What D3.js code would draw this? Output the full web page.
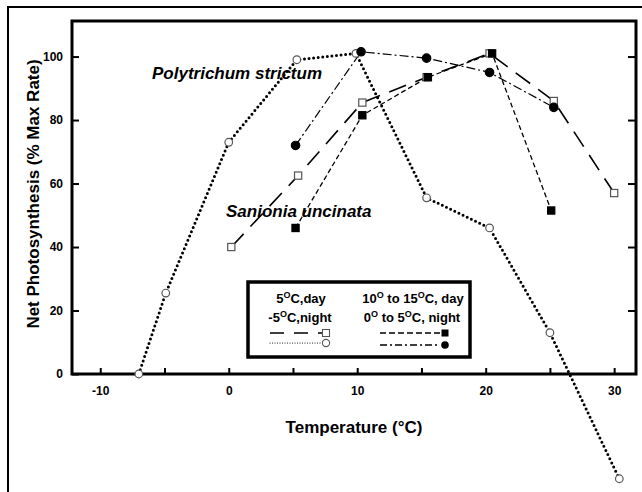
<!DOCTYPE html>
<html>
<head>
<meta charset="utf-8">
<script src="https://cdn.jsdelivr.net/npm/d3@7"></script>
<style>
  body { margin: 0; background: #fff; }
  svg { display: block; font-family: "Liberation Sans", Arial, sans-serif; }
</style>
</head>
<body>
<script>
// Values
var xTickValues = [-10, -5, 0, 5, 10, 15, 20, 25, 30];
var xTickLabels = [-10, 0, 10, 20, 30];
var yTickValues = [0, 20, 40, 60, 80, 100];

// Polytrichum strictum, 5C day / -5C night (dotted, open circle)
var polyColdT = [-7, -4.9, 0, 5.3, 9.9, 15.4, 20.3, 25, 30.4];
var polyColdV = [0, 25.5, 73, 99, 101, 55.5, 46, 13, -33];
// Sanionia uncinata, 5C day / -5C night (long dash, open square)
var sanColdT = [0.2, 5.4, 10.4, 15.4, 20.3, 25.3, 30];
var sanColdV = [40, 62.5, 85.5, 93.5, 101, 86, 57];
// Sanionia uncinata, 10-15C day / 0-5C night (short dash, filled square)
var sanWarmT = [5.2, 10.4, 15.5, 20.5, 25.1];
var sanWarmV = [46, 81.5, 93.5, 101, 51.5];
// Polytrichum strictum, 10-15C day / 0-5C night (dash dot, filled circle)
var polyWarmT = [5.2, 10.3, 15.4, 20.3, 25.3];
var polyWarmV = [72, 101.5, 99.5, 95, 84];

var width = 642, height = 492;
var svg = d3.select("body").append("svg")
  .attr("width", width)
  .attr("height", height);

var plotL = 72, plotR = 636, plotT = 21, plotB = 374;

var x = d3.scaleLinear().domain([-12.2, 31.7]).range([plotL, plotR]);
var y = d3.scaleLinear().domain([0, 111.2]).range([plotB, plotT]);

// outer frame (cut off by the picture edge on the right and bottom)
svg.append("rect")
  .attr("x", 8).attr("y", 7)
  .attr("width", 700).attr("height", 600)
  .attr("fill", "none").attr("stroke", "#000").attr("stroke-width", 2);

// axes
var xAxis = d3.axisBottom(x)
  .tickValues(xTickValues)
  .tickSizeInner(-6).tickSizeOuter(0)
  .tickPadding(12)
  .tickFormat(function (d) { return xTickLabels.indexOf(d) >= 0 ? d : ""; });

var yAxis = d3.axisLeft(y)
  .tickValues(yTickValues)
  .tickSizeInner(-7).tickSizeOuter(0)
  .tickPadding(9);

var yAxisRight = d3.axisRight(y)
  .tickValues(yTickValues.slice(1))
  .tickSizeInner(-8).tickSizeOuter(0)
  .tickFormat("");

function styleAxis(g) {
  g.select(".domain").remove();
  g.selectAll(".tick line").attr("stroke", "#000").attr("stroke-width", 2);
  g.selectAll(".tick text")
    .attr("fill", "#000")
    .style("font-size", "12px")
    .style("font-weight", "bold");
}

svg.append("g")
  .attr("transform", "translate(0," + plotB + ")")
  .call(xAxis).call(styleAxis);
svg.append("g")
  .attr("transform", "translate(" + plotL + ",0)")
  .call(yAxis).call(styleAxis);
svg.append("g")
  .attr("transform", "translate(" + plotR + ",0)")
  .call(yAxisRight).call(styleAxis);

// plot box
svg.append("rect")
  .attr("x", plotL).attr("y", plotT)
  .attr("width", plotR - plotL).attr("height", plotB - plotT)
  .attr("fill", "none").attr("stroke", "#000").attr("stroke-width", 3);

// axis titles
svg.append("text")
  .attr("x", 354).attr("y", 433)
  .attr("text-anchor", "middle")
  .style("font-size", "17px").style("font-weight", "bold")
  .text("Temperature (\u00B0C)");

svg.append("text")
  .attr("transform", "translate(39,194) rotate(-90)")
  .attr("text-anchor", "middle")
  .style("font-size", "17px").style("font-weight", "bold")
  .text("Net Photosynthesis (% Max Rate)");

// species labels
svg.append("text")
  .attr("x", 152).attr("y", 79)
  .style("font-size", "17px").style("font-weight", "bold").style("font-style", "italic")
  .text("Polytrichum strictum");
svg.append("text")
  .attr("x", 226).attr("y", 217)
  .style("font-size", "17px").style("font-weight", "bold").style("font-style", "italic")
  .text("Sanionia uncinata");

// series
function pts(t, v) {
  return t.map(function (d, i) { return [d, v[i]]; });
}

var series = [
  { data: pts(polyColdT, polyColdV), dash: "0 4.6", width: 3, cap: "round", shape: "circle", fill: "#fff" },
  { data: pts(sanColdT, sanColdV), dash: "18 10", width: 1.6, cap: "butt", shape: "square", fill: "#fff" },
  { data: pts(sanWarmT, sanWarmV), dash: "5 3", width: 1.3, cap: "butt", shape: "square", fill: "#000" },
  { data: pts(polyWarmT, polyWarmV), dash: "9 3 2 3", width: 1.2, cap: "butt", shape: "circle", fill: "#000" }
];

var line = d3.line()
  .x(function (d) { return x(d[0]); })
  .y(function (d) { return y(d[1]); });

series.forEach(function (s) {
  svg.append("path")
    .datum(s.data)
    .attr("d", line)
    .attr("fill", "none")
    .attr("stroke", "#000")
    .attr("stroke-width", s.width)
    .attr("stroke-linecap", s.cap)
    .attr("stroke-dasharray", s.dash);
});

series.forEach(function (s) {
  var g = svg.append("g");
  if (s.shape === "circle") {
    g.selectAll("circle").data(s.data).enter().append("circle")
      .attr("cx", function (d) { return x(d[0]); })
      .attr("cy", function (d) { return y(d[1]); })
      .attr("r", s.fill === "#000" ? 4.2 : 3.8)
      .attr("fill", s.fill)
      .attr("stroke", s.fill === "#000" ? "#000" : "#555")
      .attr("stroke-width", 1.2);
  } else {
    g.selectAll("rect").data(s.data).enter().append("rect")
      .attr("x", function (d) { return x(d[0]) - 3.6; })
      .attr("y", function (d) { return y(d[1]) - 3.6; })
      .attr("width", 7.2).attr("height", 7.2)
      .attr("fill", s.fill)
      .attr("stroke", s.fill === "#000" ? "#000" : "#555")
      .attr("stroke-width", 1.2);
  }
});

// legend
var legend = svg.append("g");
legend.append("rect")
  .attr("x", 248).attr("y", 282)
  .attr("width", 222).attr("height", 75)
  .attr("fill", "#fff").attr("stroke", "#000").attr("stroke-width", 3.5);

function degText(px, py, parts) {
  var t = legend.append("text")
    .attr("x", px).attr("y", py)
    .attr("text-anchor", "middle")
    .style("font-size", "13px").style("font-weight", "bold");
  parts.forEach(function (p) {
    if (p === "O") {
      t.append("tspan").attr("dy", -5).style("font-size", "9px").text("O");
    } else {
      var ts = t.append("tspan").text(p);
      if (t.selectAll("tspan").size() > 1) ts.attr("dy", 5);
    }
  });
}

degText(301, 303, ["5", "O", "C,day"]);
degText(300, 322, ["-5", "O", "C,night"]);
degText(413, 303, ["10", "O", " to 15", "O", "C, day"]);
degText(412, 322, ["0", "O", " to 5", "O", "C, night"]);

function legendLine(x1, x2, yy, dash, w, cap) {
  legend.append("line")
    .attr("x1", x1).attr("x2", x2).attr("y1", yy).attr("y2", yy)
    .attr("stroke", "#000").attr("stroke-width", w)
    .attr("stroke-linecap", cap).attr("stroke-dasharray", dash);
}
legendLine(270, 322, 333, "14 10", 1.5, "butt");
legendLine(270, 322, 343, "0 2.5", 1.2, "round");
legendLine(380, 440, 333, "6 3", 1.3, "butt");
legendLine(380, 440, 345, "7 3 2 3", 1.3, "butt");

legend.append("rect").attr("x", 322.5).attr("y", 329.5).attr("width", 7).attr("height", 7)
  .attr("fill", "#fff").attr("stroke", "#555").attr("stroke-width", 1.1);
legend.append("circle").attr("cx", 326).attr("cy", 343).attr("r", 3.6)
  .attr("fill", "#fff").attr("stroke", "#555").attr("stroke-width", 1.1);
legend.append("rect").attr("x", 441.5).attr("y", 329.5).attr("width", 7).attr("height", 7)
  .attr("fill", "#000");
legend.append("circle").attr("cx", 445).attr("cy", 345).attr("r", 3.8)
  .attr("fill", "#000");
</script>
</body>
</html>
